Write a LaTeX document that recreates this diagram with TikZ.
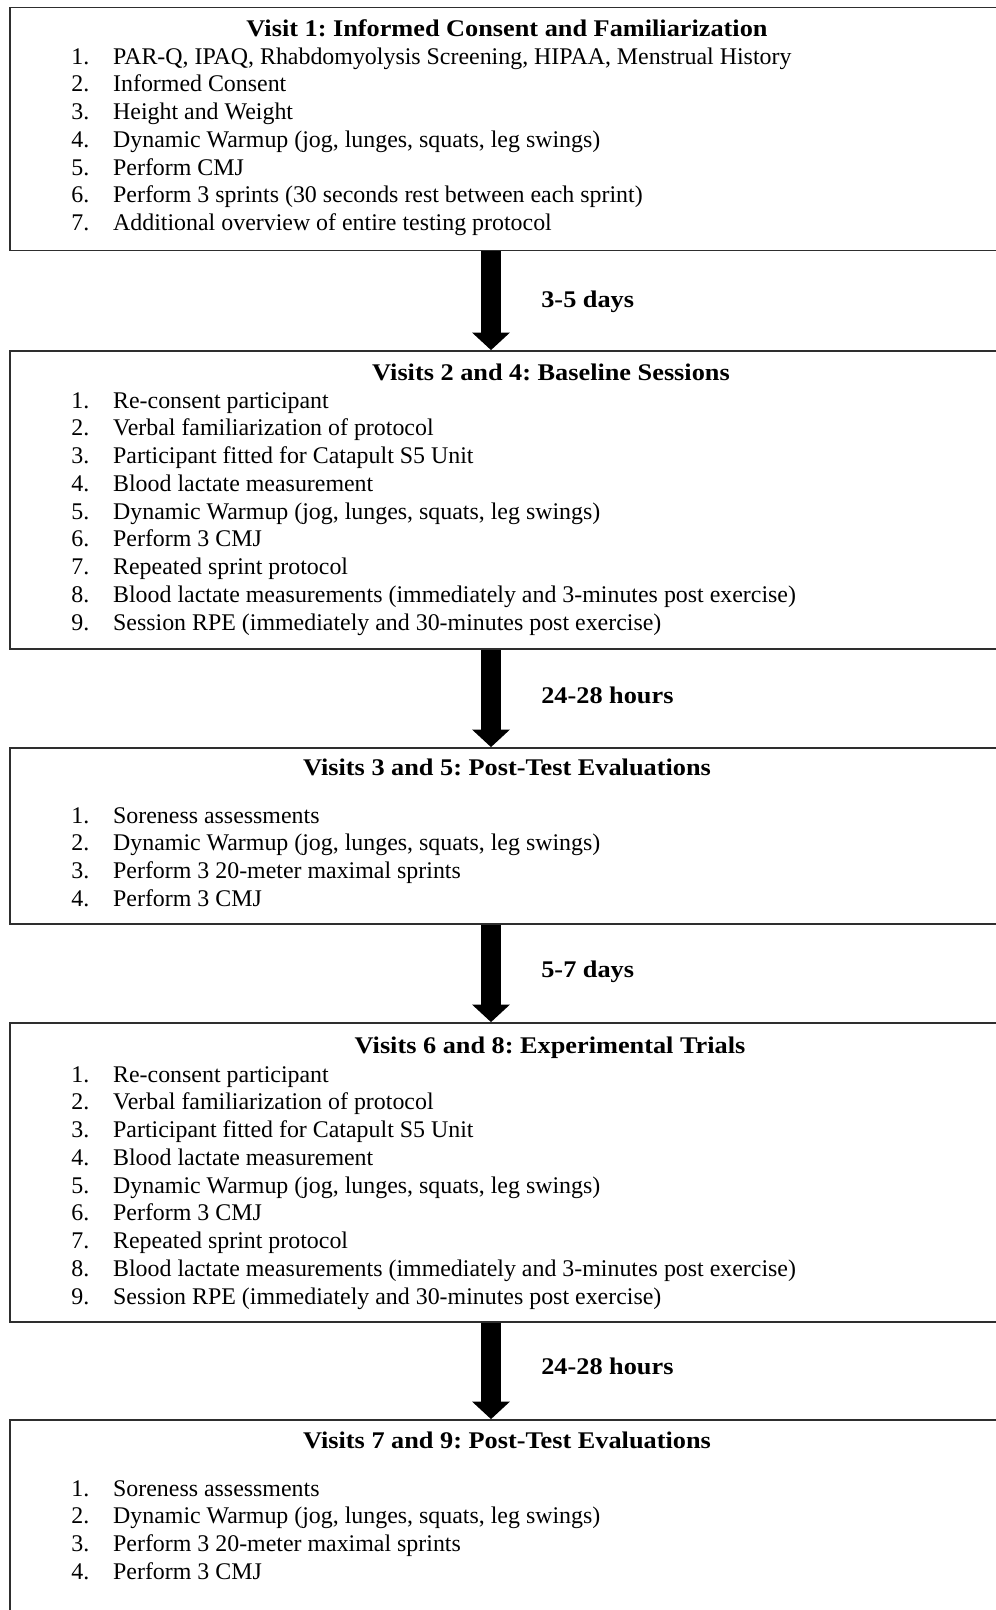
\documentclass[tikz,border=0pt]{standalone}
\usepackage{fontspec}
\setmainfont{Liberation Serif}[BoldFeatures={FakeStretch=1.10}]
\usetikzlibrary{arrows.meta,fit}
\definecolor{vora}{HTML}{2E2E2E}
\frenchspacing
\tikzset{
  caixa/.style={draw=vora, line width=1pt, inner sep=0pt},
  titol/.style={anchor=base, inner sep=0pt, font=\fontsize{13.6}{15.8}\selectfont\bfseries},
  llista/.style={anchor=base west, inner sep=0pt, font=\fontsize{13.6}{15.8}\selectfont},
  interval/.style={anchor=base west, inner sep=0pt, font=\fontsize{13.6}{15.8}\selectfont\bfseries},
  fletxa/.style={draw=black, line width=11.3pt, -{Triangle[width=21pt,length=10pt]}},
}

\begin{document}
\begin{tikzpicture}[x=0.02cm,y=-0.02cm]
  \useasboundingbox[fill=white] (0,0) rectangle (995,1610);
  \coordinate (eix) at (491,0);

  \begin{scope}[shift={(0,7.5)}]
    \node[caixa, fit={(10,0) (1004,243)}] (v1) {};
    \node[titol] (t1) at (507,28.5) {Visit 1: Informed Consent and Familiarization};
    \node[llista] (l1) at (71,56.5) {\begin{tabular}[t]{@{}p{23.8pt}@{}l@{}}
      1. & PAR-Q, IPAQ, Rhabdomyolysis Screening, HIPAA, Menstrual History\\
      2. & Informed Consent\\
      3. & Height and Weight\\
      4. & Dynamic Warmup (jog, lunges, squats, leg swings)\\
      5. & Perform CMJ\\
      6. & Perform 3 sprints (30 seconds rest between each sprint)\\
      7. & Additional overview of entire testing protocol
    \end{tabular}};
  \end{scope}

  \begin{scope}[shift={(0,351)}]
    \node[caixa, fit={(10,0) (1004,298)}] (v2) {};
    \node[titol] (t2) at (551,29) {Visits 2 and 4: Baseline Sessions};
    \node[llista] (l2) at (71,57) {\begin{tabular}[t]{@{}p{23.8pt}@{}l@{}}
      1. & Re-consent participant\\
      2. & Verbal familiarization of protocol\\
      3. & Participant fitted for Catapult S5 Unit\\
      4. & Blood lactate measurement\\
      5. & Dynamic Warmup (jog, lunges, squats, leg swings)\\
      6. & Perform 3 CMJ\\
      7. & Repeated sprint protocol\\
      8. & Blood lactate measurements (immediately and 3-minutes post exercise)\\
      9. & Session RPE (immediately and 30-minutes post exercise)
    \end{tabular}};
  \end{scope}

  \begin{scope}[shift={(0,748)}]
    \node[caixa, fit={(10,0) (1004,176)}] (v3) {};
    \node[titol] (t3) at (507,27) {Visits 3 and 5: Post-Test Evaluations};
    \node[llista] (l3) at (71,75) {\begin{tabular}[t]{@{}p{23.8pt}@{}l@{}}
      1. & Soreness assessments\\
      2. & Dynamic Warmup (jog, lunges, squats, leg swings)\\
      3. & Perform 3 20-meter maximal sprints\\
      4. & Perform 3 CMJ
    \end{tabular}};
  \end{scope}

  \begin{scope}[shift={(0,1023)}]
    \node[caixa, fit={(10,0) (1004,299)}] (v4) {};
    \node[titol] (t4) at (550,30) {Visits 6 and 8: Experimental Trials};
    \node[llista] (l4) at (71,59) {\begin{tabular}[t]{@{}p{23.8pt}@{}l@{}}
      1. & Re-consent participant\\
      2. & Verbal familiarization of protocol\\
      3. & Participant fitted for Catapult S5 Unit\\
      4. & Blood lactate measurement\\
      5. & Dynamic Warmup (jog, lunges, squats, leg swings)\\
      6. & Perform 3 CMJ\\
      7. & Repeated sprint protocol\\
      8. & Blood lactate measurements (immediately and 3-minutes post exercise)\\
      9. & Session RPE (immediately and 30-minutes post exercise)
    \end{tabular}};
  \end{scope}

  \begin{scope}[shift={(0,1420)}]
    \node[caixa, fit={(10,0) (1004,230)}] (v5) {};
    \node[titol] (t5) at (507,28) {Visits 7 and 9: Post-Test Evaluations};
    \node[llista] (l5) at (71,76) {\begin{tabular}[t]{@{}p{23.8pt}@{}l@{}}
      1. & Soreness assessments\\
      2. & Dynamic Warmup (jog, lunges, squats, leg swings)\\
      3. & Perform 3 20-meter maximal sprints\\
      4. & Perform 3 CMJ
    \end{tabular}};
  \end{scope}

  % fletxes entre visites
  \draw[fletxa] (v1.south -| eix) -- (v2.north -| eix);
  \draw[fletxa] (v2.south -| eix) -- (v3.north -| eix);
  \draw[fletxa] (v3.south -| eix) -- (v4.north -| eix);
  \draw[fletxa] (v4.south -| eix) -- (v5.north -| eix);
  \node[interval] (d1) at (541,307.5) {3-5 days};
  \node[interval] (d2) at (541,703.5) {24-28 hours};
  \node[interval] (d3) at (541,977.5) {5-7 days};
  \node[interval] (d4) at (541,1374.5) {24-28 hours};
\end{tikzpicture}
\end{document}
